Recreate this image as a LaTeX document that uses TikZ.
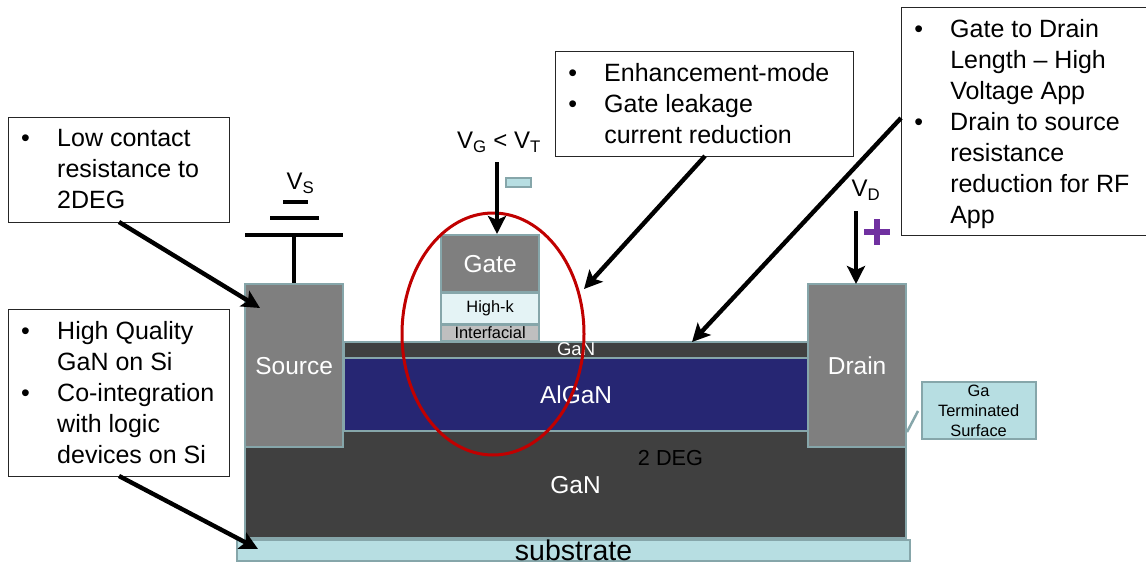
\documentclass[tikz,border=0pt]{standalone}
\usepackage{fontspec}
\setmainfont{Liberation Sans}
\usetikzlibrary{arrows.meta,shapes.geometric}
\definecolor{edgeteal}{HTML}{86A6AA}
\definecolor{metalgray}{HTML}{7F7F7F}
\definecolor{gandark}{HTML}{404040}
\definecolor{algan}{HTML}{262673}
\definecolor{lightteal}{HTML}{B7DEE2}
\definecolor{highk}{HTML}{E4F3F5}
\definecolor{interf}{HTML}{BFBFBF}
\definecolor{redring}{HTML}{C00000}
\definecolor{plusviolet}{HTML}{7030A0}
\newcommand{\fsz}[2]{\fontsize{#1pt}{#2pt}\selectfont}
\newcommand{\bul}[1]{\par\hangindent=36pt\hangafter=1\makebox[36pt][l]{•}#1\par}
\newcommand{\callbody}[3]{\parbox[c][#2pt][t]{#1pt}{\fsz{25}{31}\vspace*{12.5pt}\leftskip=13pt\rightskip=0pt plus 1fil\parindent=0pt #3}}
\tikzset{
  layer/.style={draw=edgeteal,line width=2.2pt,anchor=north west,inner sep=0pt,xshift=-1pt,yshift=1pt,text=white,font=\fsz{24.5}{28}},
  callout/.style={draw=black!85,fill=white,line width=1.5pt,anchor=north west,inner sep=0pt,xshift=-0.5pt,yshift=0.5pt},
  pointer/.style={line width=4.4pt,-{Stealth[length=18pt,width=18pt,inset=4pt]}},
  wire/.style={line width=4pt},
  plain/.style={inner sep=0pt,font=\fsz{24}{28}}
}
\begin{document}
\begin{tikzpicture}[x=1pt,y=-1pt]
\useasboundingbox (0,0) rectangle (1146,562);
% device layers
\node[layer,fill=gandark,minimum width=661pt,minimum height=107pt] (bulk) at (245,431) {GaN};
\node[layer,fill=lightteal,minimum width=673pt,minimum height=21pt,text=black,font=\fsz{28.5}{28}] (substrate) at (237,539.5) {substrate};
\node[layer,fill=algan,minimum width=464pt,minimum height=73pt] (algan) at (344,358) {AlGaN};
\node[layer,fill=gandark,minimum width=464pt,minimum height=16pt,font=\fsz{18.5}{18}] (thingan) at (344,341.5) {\raisebox{-1pt}{GaN}};
\node[layer,fill=metalgray,minimum width=98pt,minimum height=163pt] (source) at (245,284) {Source};
\node[layer,fill=metalgray,minimum width=98pt,minimum height=163pt] (drain) at (808,284) {Drain};
\node[layer,fill=metalgray,minimum width=98pt,minimum height=57pt] (gate) at (441,235) {Gate};
\node[layer,fill=highk,minimum width=98pt,minimum height=31pt,text=black,font=\fsz{16.4}{16}] (hik) at (441,293) {\raisebox{-1.5pt}{High-k}};
\node[layer,fill=interf,minimum width=98pt,minimum height=16pt,text=black,font=\fsz{16.4}{16}] (ifl) at (441,325) {\raisebox{-1pt}{Interfacial}};
\node[plain,font=\fsz{21.7}{22}] (deg) at (670.5,458) {2 DEG};
% ring
\node[draw=redring,line width=3pt,ellipse,minimum width=182pt,minimum height=242pt,inner sep=0pt] (ring) at (493,334) {};
% battery
\coordinate (b3l) at (245,235); \coordinate (b3r) at (343,235);
\coordinate (b2l) at (270,218); \coordinate (b2r) at (319,218);
\coordinate (b1l) at (283,202); \coordinate (b1r) at (308,202);
\coordinate (stem) at (source.north |- b3l);
\draw[wire] (b3l) -- (b3r);
\draw[wire] (b2l) -- (b2r);
\draw[wire] (b1l) -- (b1r);
\draw[wire] (stem) -- (source.north);
\node[plain] (vs) at (300.5,183) {V\textsubscript{S}};
% voltages
\node[plain] (vg) at (499,142) {V\textsubscript{G} < V\textsubscript{T}};
\coordinate (vgs) at (497,162); \coordinate (vge) at (497,234);
\draw[pointer] (vgs) -- (vge);
\node[draw=edgeteal,fill=lightteal,line width=2pt,anchor=north west,minimum width=25pt,minimum height=9pt,inner sep=0pt] (minus) at (505,177) {};
\node[plain] (vd) at (866,190) {V\textsubscript{D}};
\coordinate (vds) at (856,211); \coordinate (vde) at (856,284);
\draw[pointer] (vds) -- (vde);
\coordinate (pt) at (877,219); \coordinate (pb) at (877,245);
\coordinate (pl) at (864,232); \coordinate (pr) at (890,232);
\draw[plusviolet,line width=6pt] (pt) -- (pb) (pl) -- (pr);
% callouts
\node[callout,minimum width=221pt,minimum height=105pt] (c1) at (8,117)
  {\callbody{221}{105}{\bul{Low contact\\resistance to\\2DEG}}};
\node[callout,minimum width=221pt,minimum height=167pt] (c2) at (8,309)
  {\callbody{221}{167}{\bul{High Quality\\GaN on Si}\bul{Co-integration\\with logic\\devices on Si}}};
\node[callout,minimum width=298pt,minimum height=105pt] (c3) at (555,51)
  {\callbody{298}{105}{\bul{Enhancement-mode}\bul{Gate leakage\\current reduction}}};
\node[callout,minimum width=246pt,minimum height=228pt] (c4) at (901,7)
  {\callbody{246}{228}{\bul{Gate to Drain\\Length – High\\Voltage App}\bul{Drain to source\\resistance\\reduction for RF\\App}}};
% pointers
\coordinate (p1s) at (119,222); \coordinate (p1e) at (260,308);
\coordinate (p2s) at (119,476); \coordinate (p2e) at (258,549);
\coordinate (p3s) at (705,156); \coordinate (p3e) at (584,289);
\coordinate (p4s) at (901,118); \coordinate (p4e) at (692,342);
\draw[pointer] (p1s) -- (p1e);
\draw[pointer] (p2s) -- (p2e);
\draw[pointer] (p3s) -- (p3e);
\draw[pointer] (p4s) -- (p4e);
% Ga terminated surface
\node[draw=edgeteal,fill=lightteal,line width=2.2pt,anchor=north west,minimum width=114pt,minimum height=57pt,inner sep=0pt,align=center,font=\fsz{16.4}{20}] (gts) at (920.5,381) {Ga\\Terminated\\Surface};
\coordinate (gtc) at (918,411); \coordinate (gtd) at (907,432);
\draw[edgeteal,line width=2.5pt] (gtc) -- (gtd);
\end{tikzpicture}
\end{document}
